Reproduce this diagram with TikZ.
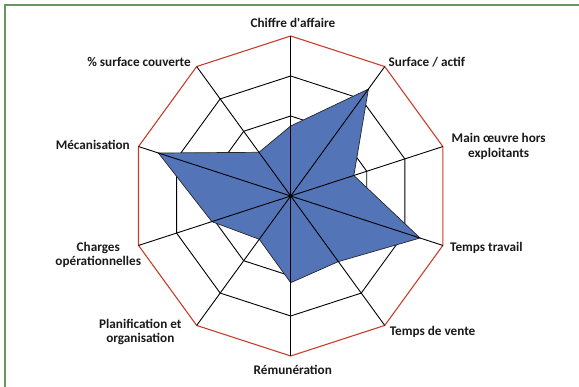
\documentclass[tikz,border=0pt]{standalone}
\usepackage{fontspec}
\setmainfont{Carlito}
\usetikzlibrary{calc}
\definecolor{radarblue}{RGB}{84,116,184}
\definecolor{ringred}{RGB}{200,62,44}
\definecolor{framegreen}{RGB}{104,150,92}
\begin{document}
\begin{tikzpicture}[x=1pt,y=1pt,
  lbl/.style={font=\bfseries\fontsize{13.2}{14.4}\selectfont, inner sep=0pt, align=center, text=black!90},
  ringline/.style={draw=black, line width=0.9pt, line join=miter},
  outerring/.style={draw=ringred, line width=1.1pt, line join=miter},
  spoke/.style={draw=black, line width=0.9pt},
  datapoly/.style={fill=radarblue, draw=black!85, line width=0.7pt, line join=miter},
  framebox/.style={draw=framegreen, line width=1.5pt}]
\useasboundingbox (0,0) rectangle (579,387);
\draw[framebox] (5,-10) -- (5,382) -- (590,382);
\coordinate (O) at (290.7,191);
\foreach \i in {0,...,9}{
  \coordinate (V\i) at ($(O)+({90-36*\i}:160pt)$);
  \coordinate (A\i) at ($(O)+({90-36*\i}:40pt)$);
  \coordinate (B\i) at ($(O)+({90-36*\i}:80pt)$);
  \coordinate (C\i) at ($(O)+({90-36*\i}:120pt)$);
}
\foreach \r [count=\i from 0] in {70,132.2,66.4,136,81.1,86.7,53.5,82.9,139.1,54}{
  \coordinate (D\i) at ($(O)+({90-36*\i}:\r pt)$);
}
% rings
\draw[ringline] (A0)--(A1)--(A2)--(A3)--(A4)--(A5)--(A6)--(A7)--(A8)--(A9)--cycle;
\draw[ringline] (B0)--(B1)--(B2)--(B3)--(B4)--(B5)--(B6)--(B7)--(B8)--(B9)--cycle;
\draw[ringline] (C0)--(C1)--(C2)--(C3)--(C4)--(C5)--(C6)--(C7)--(C8)--(C9)--cycle;
\draw[outerring] (V0)--(V1)--(V2)--(V3)--(V4)--(V5)--(V6)--(V7)--(V8)--(V9)--cycle;
% data
\draw[datapoly] (D0)--(D1)--(D2)--(D3)--(D4)--(D5)--(D6)--(D7)--(D8)--(D9)--cycle;
% spokes
\foreach \i in {0,...,9}{\draw[spoke] (O) -- (V\i);}
\fill[black] (O) circle (1.3pt);
% labels
\node[lbl] (l0) at (293,363.7) {Chiffre d\textquotesingle affaire};
\node[lbl,anchor=west] (l1) at (388.5,324.7) {Surface / actif};
\node[lbl] (l2) at (498.7,240.7) {Main œuvre hors\\exploitants};
\node[lbl,anchor=west] (l3) at (450,139.3) {Temps travail};
\node[lbl,anchor=west] (l4) at (389.6,55.3) {Temps de vente};
\node[lbl] (l5) at (292.8,17) {Rémunération};
\node[lbl] (l6) at (140.3,55.3) {Planification et\\organisation};
\node[lbl] (l7) at (98.3,132.3) {Charges\\opérationnelles};
\node[lbl,anchor=east] (l8) at (130,242) {Mécanisation};
\node[lbl,anchor=east] (l9) at (191,324.7) {\% surface couverte};
\end{tikzpicture}
\end{document}
